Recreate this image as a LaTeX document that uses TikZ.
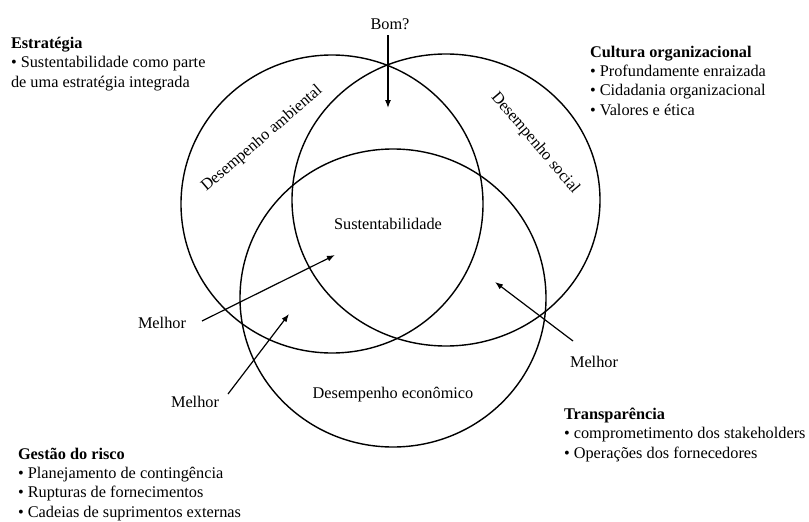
\documentclass[tikz,border=0pt]{standalone}
\usepackage{fontspec}
\setmainfont{Liberation Serif}
\usetikzlibrary{arrows.meta,shapes.geometric}
\begin{document}
\begin{tikzpicture}[x=1pt,y=-1pt,
  txt/.style={font=\fontsize{16.3}{19.3}\selectfont, inner sep=0pt, outer sep=0pt},
  % multi-line blocks are placed by the baseline of their last line
  block/.style={txt, align=left, anchor=base west},
  label/.style={txt, anchor=base},
  ring/.style={ellipse, draw=black, line width=1.4pt, inner sep=0pt},
  arr/.style={line width=1.2pt, -{Latex[length=8pt,width=6pt]}}]
\useasboundingbox[fill=white] (0,0) rectangle (809,522);

% the three performance circles
\node[ring, minimum width=302pt, minimum height=298pt] (amb) at (332,204) {};
\node[ring, minimum width=308pt, minimum height=292pt] (soc) at (446,200) {};
\node[ring, minimum width=306pt, minimum height=298pt] (eco) at (393,298) {};

% circle captions
\node[txt, rotate=40.6] (lamb) at (262,139) {Desempenho ambiental};
\node[txt, rotate=-49.6] (lsoc) at (535,143) {Desempenho social};
\node[label] (leco) at (393,398) {Desempenho econômico};
\node[label] (sust) at (388,229) {Sustentabilidade};

% arrows towards the centre
\node[label] (bom) at (390,29) {Bom?};
\coordinate (bomS) at (388,35);
\coordinate (bomE) at (388,108);
\draw[arr] (bomS) -- (bomE);

\node[label] (mel1) at (162,328) {Melhor};
\coordinate (m1S) at (202,321);
\coordinate (m1E) at (335,255);
\draw[arr] (m1S) -- (m1E);

\node[label] (mel2) at (195,407) {Melhor};
\coordinate (m2S) at (228,394);
\coordinate (m2E) at (289,314);
\draw[arr] (m2S) -- (m2E);

\node[label] (mel3) at (594,367) {Melhor};
\coordinate (m3S) at (573,341);
\coordinate (m3E) at (495,282);
\draw[arr] (m3S) -- (m3E);

% corner text blocks
\node[block] (estr) at (11,87) {\textbf{Estratégia}\\
  • Sustentabilidade como parte\\
  de uma estratégia integrada};
\node[block] (cult) at (590,115) {\textbf{Cultura organizacional}\\
  • Profundamente enraizada\\
  • Cidadania organizacional\\
  • Valores e ética};
\node[block] (gest) at (18,517) {\textbf{Gestão do risco}\\
  • Planejamento de contingência\\
  • Rupturas de fornecimentos\\
  • Cadeias de suprimentos externas};
\node[block] (transp) at (564,458) {\textbf{Transparência}\\
  • comprometimento dos stakeholders\\
  • Operações dos fornecedores};
\end{tikzpicture}
\end{document}
